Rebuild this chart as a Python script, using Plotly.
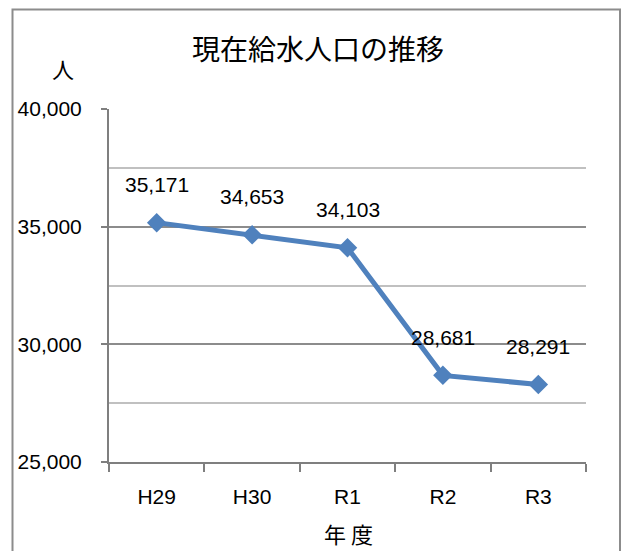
import plotly.graph_objects as go

years = ["H29", "H30", "R1", "R2", "R3"]
population = [35171, 34653, 34103, 28681, 28291]
y_ticks = [25000, 30000, 35000, 40000]
y_tick_labels = ["25,000", "30,000", "35,000", "40,000"]

W, H = 624, 551
L, T = 109, 109
R = W - 586
B = H - 462
pw, ph = W - L - R, H - T - B


def px_x(sx):
    return (sx - L) / pw


def px_y(sy):
    return 1 - (sy - T) / ph


num_font = "Liberation Sans, Arial, sans-serif"
jp_font = "Noto Sans CJK JP, sans-serif"

fig = go.Figure()
fig.add_trace(go.Scatter(
    x=years, y=population, mode="lines+markers",
    line=dict(color="#4F81BD", width=5),
    marker=dict(symbol="diamond", size=15, color="#4F81BD"),
    hoverinfo="skip", showlegend=False,
))

for xv, yv in zip(years, population):
    fig.add_annotation(x=xv, y=yv, text=f"{yv:,}", showarrow=False,
                       yshift=38, font=dict(family=num_font, size=21, color="#000"))

fig.update_layout(
    width=W, height=H,
    margin=dict(l=L, r=R, t=T, b=B),
    paper_bgcolor="white", plot_bgcolor="white",
    title=dict(text="現在給水人口の推移", x=px_x(318), xref="paper",
               xanchor="center", y=1 - 50 / H, yanchor="middle",
               font=dict(family=jp_font, size=28, color="#000")),
    xaxis=dict(
        range=[-0.5, 4.5], showline=True, linecolor="#7f7f7f", linewidth=2,
        ticks="outside", tickson="boundaries", ticklen=8, tickcolor="#7f7f7f", tickwidth=2,
        showgrid=False, zeroline=False,
        tickfont=dict(family=num_font, size=21, color="#000"),
        ticklabelstandoff=15,
    ),
    yaxis=dict(
        range=[25000, 40000], tickvals=y_ticks, ticktext=y_tick_labels,
        showline=True, linecolor="#7f7f7f", linewidth=2,
        ticks="outside", ticklen=6, tickcolor="#7f7f7f", tickwidth=2,
        showgrid=True, gridcolor="#8c8c8c", gridwidth=2, zeroline=False,
        minor=dict(dtick=2500, showgrid=True, gridcolor="#c0c0c0", gridwidth=2, ticks=""),
        tickfont=dict(family=num_font, size=21, color="#000"),
        ticklabelstandoff=15,
    ),
)

# x-axis title
fig.add_annotation(text="年 度", xref="paper", yref="paper",
                   x=px_x(348), y=px_y(533), showarrow=False,
                   xanchor="center", yanchor="middle",
                   font=dict(family=jp_font, size=22, color="#000"))

# y-axis unit label
fig.add_annotation(text="人", xref="paper", yref="paper",
                   x=px_x(63), y=px_y(68), showarrow=False,
                   xanchor="center", yanchor="middle",
                   font=dict(family=jp_font, size=22, color="#000"))

# outer chart border
fig.add_shape(type="rect", xref="paper", yref="paper",
              x0=px_x(12.5), x1=px_x(620),
              y0=-0.5, y1=px_y(9.5),
              line=dict(color="#8c8c8c", width=2), layer="above")

fig.write_html(
    "out.html",
    config={"displayModeBar": False},
    post_script="document.body.style.margin='0';document.body.style.overflow='hidden';",
)
